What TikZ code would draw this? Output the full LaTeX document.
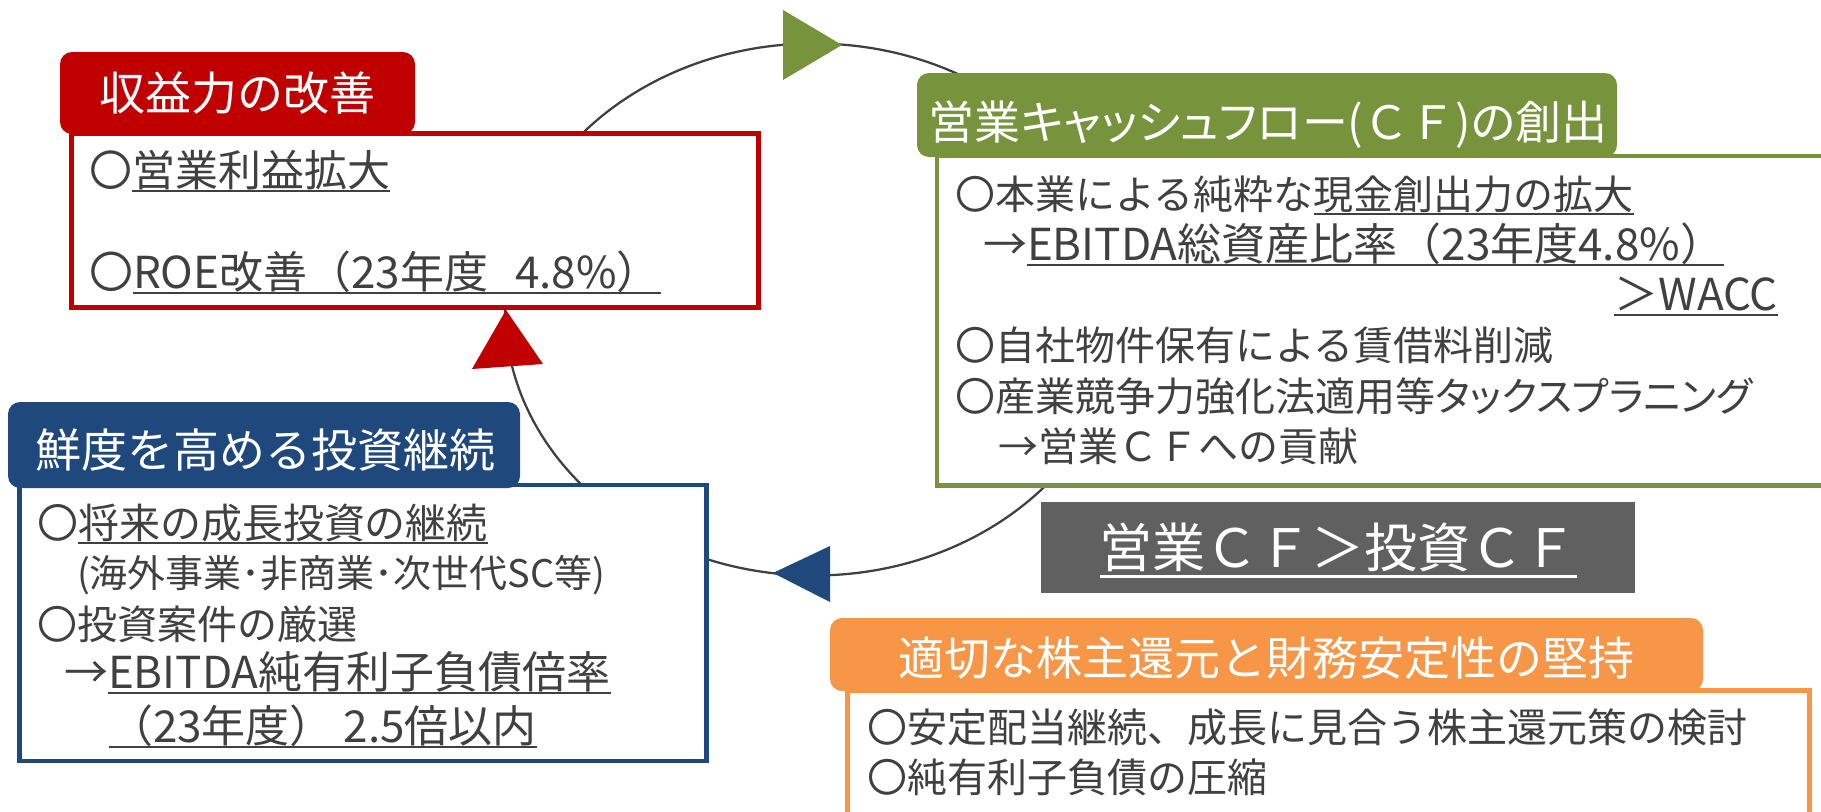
\documentclass[tikz,border=0pt]{standalone}
\usepackage{fontspec}
\setmainfont{Noto Sans CJK JP}
\newfontfamily\jpp[RawFeature=+palt]{Noto Sans CJK JP}
\definecolor{redc}{HTML}{C00000}
\definecolor{greenc}{HTML}{77933C}
\definecolor{bluec}{HTML}{1F497D}
\definecolor{orangec}{HTML}{F79646}
\definecolor{grayc}{HTML}{606060}
\definecolor{txtc}{HTML}{404040}
\newcommand\fs[1]{\fontsize{#1}{#1}\selectfont}
\newcommand\ulin[1]{\setbox0=\hbox{#1}\rlap{\rule[-4.5pt]{\wd0}{1.5pt}}\box0}
\newcommand\ulgray[1]{\setbox0=\hbox{#1}\rlap{\rule[-7.9pt]{\wd0}{2.25pt}}\box0}
\tikzset{
  txt/.style={inner sep=0pt, outer sep=0pt, anchor=base west, text=txtc, font=\fs{30pt}},
  bigtxt/.style={font=\fs{33pt}},
  hdrtxt/.style={inner sep=0pt, outer sep=0pt, anchor=base, text=white, font=\fs{34.5pt}},
  hdrbox/.style={rounded corners=9pt},
  bodybox/.style={fill=white, line width=3.75pt},
  cyc/.style={draw=txtc, line width=1.7pt},
}
\begin{document}
\begin{tikzpicture}[x=0.75pt,y=-0.75pt]
\useasboundingbox (0,0) rectangle (1821,811);
\clip (0,0) rectangle (1821,811);
% cycle ellipse
\coordinate (cc) at (814,309.5);
\draw[cyc] (cc) ellipse [x radius=231.75pt, y radius=199.5pt];
% arrow heads
\coordinate (gtip) at (842,45);
\coordinate (rtip) at (506,310);
\coordinate (btip) at (773,573);
\fill[greenc] (gtip) -- (783,10) -- (783,80) -- cycle;
\fill[redc] (rtip) -- (543,364) -- (472,369) -- cycle;
\fill[bluec] (btip) -- (830,546) -- (830,602) -- cycle;
% red box
\draw[bodybox, draw=redc] (71.5,133.5) rectangle (758.5,307.5);
\fill[hdrbox, redc] (60,52) rectangle (415,134);
% green box
\draw[bodybox, draw=greenc, line width=3.4pt] (937,156) rectangle (1850,485.5);
\fill[hdrbox, greenc] (917,73) rectangle (1617,157);
% blue box
\draw[bodybox, draw=bluec, line width=3.4pt] (19.5,485) rectangle (706.5,761);
\fill[hdrbox, bluec] (8,402) rectangle (520,488);
% orange box
\draw[bodybox, draw=orangec] (847.5,690.5) rectangle (1809.5,840);
\fill[hdrbox, orangec] (830,618) rectangle (1703,691);
% gray box
\fill[grayc] (1041,502) rectangle (1635,593);
% header texts
\node[hdrtxt] (rh) at (237.5,110) {収益力の改善};
\node[hdrtxt] (gh) at (1268,139) {{\jpp 営業キャッシュフロー}(ＣＦ){\jpp の}創出};
\node[hdrtxt] (bh) at (266,467) {鮮度を高める投資継続};
\node[hdrtxt] (oh) at (1266,675) {適切な株主還元と財務安定性の堅持};
\node[hdrtxt, font=\fs{39.75pt}] (gt) at (1338,567) {\ulgray{営業ＣＦ＞投資ＣＦ}};
% red body
\node[txt, font=\fs{32.25pt}] (r1) at (89,186) {〇\ulin{営業利益拡大}};
\node[txt, bigtxt] (r2) at (89,288) {〇\ulin{ROE改善（23年度\hspace{20pt}4.8\%）}};
% green body
\node[txt] (g1) at (955,209) {〇本業による純粋な\ulin{現金創出力の拡大}};
\node[txt, bigtxt] (g2) at (983,260) {→\ulin{EBITDA総資産比率（23年度4.8\%）}};
\node[txt, bigtxt, anchor=base east] (g3) at (1778,310) {\ulin{＞WACC}};
\node[txt] (g4) at (955,360) {〇自社物件保有による賃借料削減};
\node[txt] (g5) at (955,411) {〇産業競争力強化法適用等{\jpp タックスプラニング}};
\node[txt] (g6) at (998,461) {→営業ＣＦへの貢献};
% blue body
\node[txt, font=\fs{30.75pt}] (b1) at (37,538) {〇\ulin{将来の成長投資の継続}};
\node[txt, font=\fs{28.5pt}] (b2) at (77,587) {(海外事業･非商業･次世代SC等)};
\node[txt] (b3) at (37,639) {〇投資案件の厳選};
\node[txt, bigtxt] (b4) at (64,688) {→\ulin{EBITDA純有利子負債倍率}};
\node[txt, bigtxt] (b5) at (109,742) {\ulin{（23年度） 2.5倍以内}};
% orange body
\node[txt] (o1) at (867,742) {〇安定配当継続、成長に見合う株主還元策の検討};
\node[txt] (o2) at (867,792) {〇純有利子負債の圧縮};
\end{tikzpicture}
\end{document}
